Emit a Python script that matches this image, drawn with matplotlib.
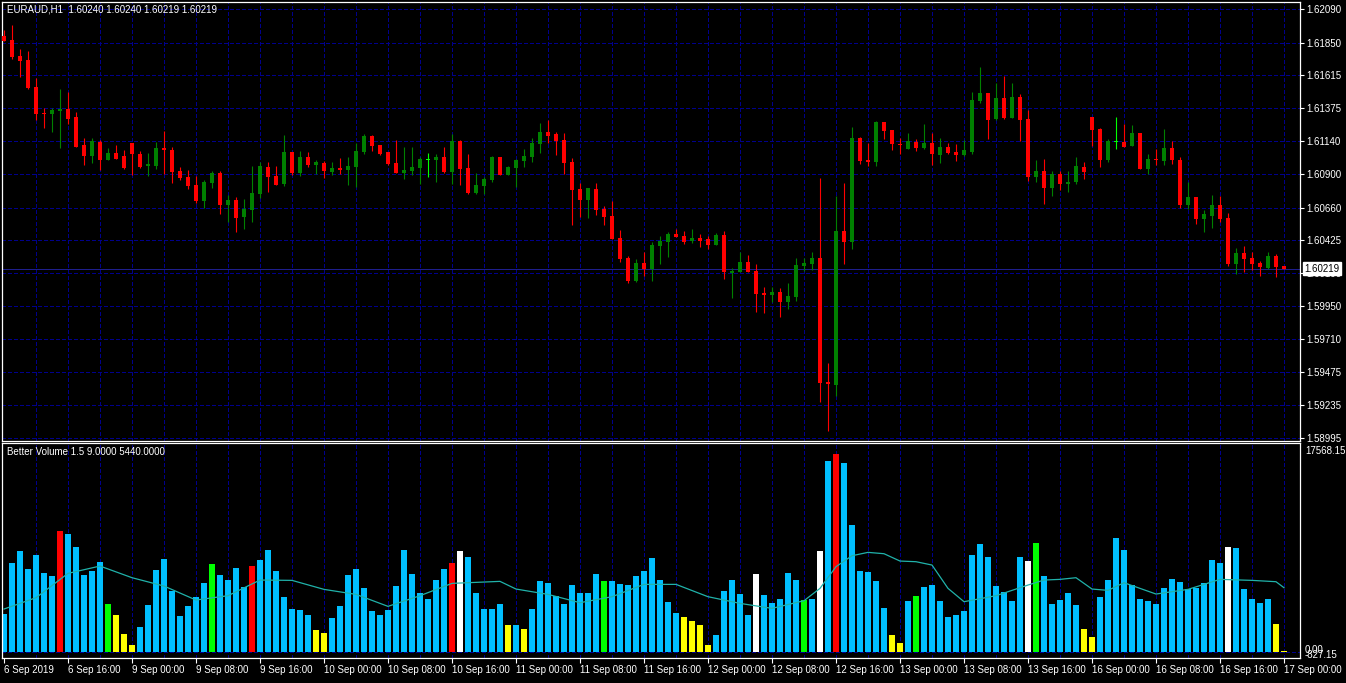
import matplotlib
matplotlib.use('Agg')
import matplotlib.pyplot as plt
import numpy as np

# =============================================================================
# EURAUD H1 candles + Better Volume 1.5 (MT4 style, black background)
# =============================================================================

OPEN = [1.61897, 1.61868, 1.61753, 1.61724, 1.61529, 1.61340, 1.61337, 1.61358, 1.61371, 1.61313,
        1.61111, 1.61034, 1.61133, 1.61005, 1.61053, 1.61032, 1.61125, 1.61046, 1.60962, 1.60962,
        1.61091, 1.61075, 1.60923, 1.60880, 1.60822, 1.60709, 1.60839, 1.60909, 1.60680, 1.60714,
        1.60594, 1.60644, 1.60760, 1.60952, 1.60887, 1.60832, 1.61060, 1.60911, 1.61024, 1.60969,
        1.60981, 1.60918, 1.60945, 1.60933, 1.60954, 1.61063, 1.61176, 1.61111, 1.61060, 1.60981,
        1.60911, 1.60926, 1.60947, 1.61001, 1.61005, 1.61024, 1.60916, 1.61140, 1.60945, 1.60765,
        1.60815, 1.60858, 1.61024, 1.60895, 1.60945, 1.60995, 1.61024, 1.61118, 1.61205, 1.61190,
        1.61147, 1.60988, 1.60793, 1.60714, 1.60793, 1.60649, 1.60599, 1.60440, 1.60296, 1.60130,
        1.60260, 1.60216, 1.60382, 1.60411, 1.60469, 1.60454, 1.60418, 1.60440, 1.60433, 1.60390,
        1.60462, 1.60187, 1.60195, 1.60267, 1.60202, 1.60043, 1.60029, 1.60050, 1.59978, 1.60014,
        1.60238, 1.60252, 1.60296, 1.59401, 1.59379, 1.60490, 1.60411, 1.61161, 1.61003, 1.60988,
        1.61277, 1.61219, 1.61116, 1.61084, 1.61133, 1.61091, 1.61125, 1.61041, 1.61097, 1.61060,
        1.61041, 1.61060, 1.61428, 1.61486, 1.61298, 1.61450, 1.61306, 1.61457, 1.61298, 1.60880,
        1.60923, 1.60801, 1.60902, 1.60830, 1.60844, 1.60952, 1.61313, 1.61226, 1.61003, 1.61133,
        1.61133, 1.61104, 1.61197, 1.60938, 1.61010, 1.60995, 1.61089, 1.61003, 1.60678, 1.60736,
        1.60577, 1.60599, 1.60678, 1.60584, 1.60252, 1.60332, 1.60296, 1.60260, 1.60224, 1.60310,
        1.60240]
HIGH = [1.61941, 1.61977, 1.61806, 1.61787, 1.61594, 1.61378, 1.61378, 1.61515, 1.61493, 1.61349,
        1.61164, 1.61161, 1.61147, 1.61089, 1.61111, 1.61075, 1.61125, 1.61068, 1.61053, 1.61133,
        1.61212, 1.61097, 1.60952, 1.60931, 1.60887, 1.60858, 1.60923, 1.60923, 1.60750, 1.60736,
        1.60721, 1.60962, 1.60991, 1.60988, 1.60959, 1.61183, 1.61060, 1.61068, 1.61058, 1.61003,
        1.60995, 1.60988, 1.61017, 1.61024, 1.61125, 1.61190, 1.61183, 1.61111, 1.61060, 1.61147,
        1.61097, 1.61097, 1.61024, 1.61053, 1.61046, 1.61097, 1.61190, 1.61147, 1.61046, 1.60909,
        1.60880, 1.61032, 1.61024, 1.60959, 1.61010, 1.61082, 1.61161, 1.61270, 1.61291, 1.61205,
        1.61197, 1.61017, 1.60837, 1.60801, 1.60837, 1.60671, 1.60707, 1.60498, 1.60310, 1.60288,
        1.60339, 1.60411, 1.60454, 1.60483, 1.60505, 1.60490, 1.60505, 1.60469, 1.60454, 1.60476,
        1.60490, 1.60224, 1.60339, 1.60317, 1.60252, 1.60086, 1.60086, 1.60079, 1.60115, 1.60296,
        1.60296, 1.60339, 1.60873, 1.59538, 1.60743, 1.60837, 1.61241, 1.61169, 1.61125, 1.61284,
        1.61277, 1.61219, 1.61161, 1.61197, 1.61154, 1.61262, 1.61197, 1.61161, 1.61125, 1.61118,
        1.61147, 1.61493, 1.61674, 1.61486, 1.61558, 1.61609, 1.61558, 1.61479, 1.61363, 1.61003,
        1.61010, 1.60923, 1.60923, 1.60923, 1.61024, 1.60988, 1.61313, 1.61234, 1.61154, 1.61313,
        1.61262, 1.61255, 1.61197, 1.61046, 1.61082, 1.61226, 1.61140, 1.61024, 1.60844, 1.60736,
        1.60642, 1.60750, 1.60743, 1.60620, 1.60368, 1.60382, 1.60339, 1.60274, 1.60339, 1.60325,
        1.60240]
LOW = [1.61860, 1.61734, 1.61604, 1.61518, 1.61291, 1.61236, 1.61207, 1.61091, 1.61262, 1.61097,
       1.60969, 1.60983, 1.60931, 1.61003, 1.61010, 1.60938, 1.60897, 1.60947, 1.60889, 1.60940,
       1.60904, 1.60839, 1.60861, 1.60796, 1.60695, 1.60659, 1.60803, 1.60615, 1.60558, 1.60485,
       1.60507, 1.60558, 1.60731, 1.60774, 1.60822, 1.60817, 1.60897, 1.60889, 1.60954, 1.60902,
       1.60875, 1.60897, 1.60904, 1.60824, 1.60810, 1.61048, 1.61070, 1.61041, 1.60969, 1.60909,
       1.60868, 1.60897, 1.60832, 1.60882, 1.60846, 1.60911, 1.60830, 1.60822, 1.60757, 1.60757,
       1.60757, 1.60844, 1.60895, 1.60895, 1.60808, 1.60952, 1.60988, 1.61053, 1.61125, 1.61039,
       1.60902, 1.60534, 1.60591, 1.60584, 1.60606, 1.60534, 1.60433, 1.60267, 1.60115, 1.60123,
       1.60166, 1.60130, 1.60252, 1.60303, 1.60447, 1.60397, 1.60404, 1.60375, 1.60361, 1.60390,
       1.60144, 1.60007, 1.60195, 1.60195, 1.59906, 1.59899, 1.59978, 1.59870, 1.59928, 1.59985,
       1.60202, 1.60209, 1.59257, 1.59048, 1.59300, 1.60252, 1.60361, 1.60974, 1.60959, 1.60959,
       1.61154, 1.61077, 1.61046, 1.61084, 1.61070, 1.61084, 1.60967, 1.60983, 1.61048, 1.60998,
       1.61034, 1.61048, 1.61414, 1.61154, 1.61291, 1.61298, 1.61306, 1.61140, 1.60851, 1.60844,
       1.60685, 1.60743, 1.60786, 1.60772, 1.60830, 1.60866, 1.61104, 1.60952, 1.60988, 1.61082,
       1.61097, 1.61104, 1.60938, 1.60902, 1.60967, 1.60967, 1.60974, 1.60656, 1.60649, 1.60541,
       1.60483, 1.60512, 1.60555, 1.60238, 1.60180, 1.60195, 1.60209, 1.60166, 1.60216, 1.60159,
       1.60219]
CLOSE = [1.61863, 1.61748, 1.61719, 1.61524, 1.61337, 1.61337, 1.61363, 1.61371, 1.61301, 1.61099,
         1.61034, 1.61140, 1.61005, 1.61053, 1.61012, 1.60947, 1.61048, 1.60954, 1.60974, 1.61089,
         1.61077, 1.60918, 1.60875, 1.60817, 1.60709, 1.60844, 1.60909, 1.60680, 1.60714, 1.60586,
         1.60649, 1.60765, 1.60959, 1.60882, 1.60824, 1.61060, 1.60911, 1.61024, 1.60969, 1.60988,
         1.60926, 1.60945, 1.60933, 1.60959, 1.61068, 1.61176, 1.61106, 1.61048, 1.60976, 1.60911,
         1.60931, 1.60952, 1.61010, 1.61001, 1.61024, 1.60918, 1.61140, 1.60938, 1.60765, 1.60822,
         1.60866, 1.61024, 1.60895, 1.60952, 1.61003, 1.61032, 1.61125, 1.61205, 1.61176, 1.61140,
         1.60981, 1.60786, 1.60714, 1.60801, 1.60642, 1.60591, 1.60433, 1.60288, 1.60130, 1.60260,
         1.60216, 1.60390, 1.60418, 1.60469, 1.60447, 1.60411, 1.60440, 1.60418, 1.60390, 1.60462,
         1.60195, 1.60202, 1.60267, 1.60195, 1.60036, 1.60029, 1.60050, 1.59978, 1.60022, 1.60245,
         1.60260, 1.60296, 1.59394, 1.59387, 1.60490, 1.60411, 1.61161, 1.60995, 1.60988, 1.61277,
         1.61212, 1.61120, 1.61113, 1.61140, 1.61091, 1.61125, 1.61048, 1.61097, 1.61055, 1.61041,
         1.61075, 1.61436, 1.61486, 1.61291, 1.61450, 1.61306, 1.61457, 1.61291, 1.60880, 1.60923,
         1.60801, 1.60902, 1.60830, 1.60844, 1.60959, 1.60916, 1.61219, 1.61003, 1.61140, 1.61133,
         1.61097, 1.61197, 1.60938, 1.61010, 1.61003, 1.61089, 1.61003, 1.60678, 1.60736, 1.60577,
         1.60613, 1.60678, 1.60577, 1.60252, 1.60332, 1.60288, 1.60252, 1.60231, 1.60310, 1.60231,
         1.60219]

VOLUME = [3348, 7911, 8948, 7348, 8622, 7022, 6726, 10756, 10489, 9304,
          6845, 7200, 7970, 4237, 3259, 1570, 593, 2193, 4148, 7259,
          8237, 5422, 3170, 4059, 4859, 6104, 7793, 6815, 6370, 7437,
          5748, 7615, 8148, 9037, 7170, 4859, 3793, 3704, 3259, 1926,
          1659, 2993, 4059, 6815, 7348, 5659, 3615, 3259, 3704, 5837,
          9037, 6904, 5215, 4682, 6370, 7348, 7882, 8948, 8415, 5215,
          3793, 3793, 4237, 2370, 2370, 2015, 3793, 6282, 6104, 4948,
          4237, 5926, 5215, 5215, 6904, 6282, 6282, 6015, 5926, 6726,
          7170, 8326, 6370, 4415, 3437, 3082, 2726, 2370, 593, 1482,
          5393, 6370, 5126, 3259, 6904, 5037, 4326, 4682, 6993, 6370,
          4593, 4682, 8948, 16948, 17568, 16771, 11259, 7170, 7082, 6282,
          3882, 1482, 770, 4504, 4948, 5748, 5926, 4504, 3082, 3259,
          3615, 8593, 9570, 8415, 5837, 5304, 4504, 8415, 8059, 9659,
          6726, 4237, 4593, 5215, 4148, 2015, 1304, 4859, 6370, 10104,
          9037, 5926, 4682, 4504, 4237, 5659, 6459, 6193, 5570, 5659,
          6104, 8148, 7882, 9304, 9215, 5570, 4682, 4326, 4682, 2459,
          40]
# bar indices by Better Volume class; every other bar is the normal (blue) class
VOL_CLIMAX_HIGH = [7, 31, 56, 104]                       # red
VOL_CHURN = [13, 26, 75, 100, 114, 129]                  # green
VOL_LOW = [14, 15, 16, 39, 40, 63, 65, 85, 86, 87, 88,
           111, 112, 135, 136, 159, 160]                 # yellow
VOL_CLIMAX_LOW = [57, 94, 102, 128, 153]                 # white

MA_IDX = [0, 4, 8, 12, 16, 20, 24, 28, 32, 36, 40, 44, 48, 52, 56, 60, 62, 64, 68, 72,
          76, 80, 84, 88, 92, 96, 100, 102, 104, 106, 108, 110, 112, 114, 116, 118, 120,
          124, 128, 130, 132, 134, 136, 138, 140, 144, 148, 152, 156, 159, 160]
MA_VAL = [3793, 4800, 6963, 7615, 6578, 5837, 4593, 4978, 6370, 6341, 5541, 5096, 4030,
          4978, 6074, 6193, 6252, 5570, 5096, 4356, 4889, 5985, 5985, 4889, 4296, 3852,
          4533, 5630, 7556, 8533, 8830, 8711, 8059, 8000, 7704, 5630, 4445, 4978, 5926,
          6370, 6430, 6578, 5570, 5452, 6133, 5126, 5541, 6430, 6341, 6222, 5689]

PRICE_TICKS = [1.62090, 1.61850, 1.61615, 1.61375, 1.61140, 1.60900, 1.60660, 1.60425,
               1.60190, 1.59950, 1.59710, 1.59475, 1.59235, 1.58995]
LAST_PRICE = 1.60219
TIME_LABELS = ['6 Sep 2019', '6 Sep 16:00', '9 Sep 00:00', '9 Sep 08:00', '9 Sep 16:00',
               '10 Sep 00:00', '10 Sep 08:00', '10 Sep 16:00', '11 Sep 00:00', '11 Sep 08:00',
               '11 Sep 16:00', '12 Sep 00:00', '12 Sep 08:00', '12 Sep 16:00', '13 Sep 00:00',
               '13 Sep 08:00', '13 Sep 16:00', '16 Sep 00:00', '16 Sep 08:00', '16 Sep 16:00',
               '17 Sep 00:00']

# ---- styling ----
BG = 'black'
GRID = '#00008c'
UP, DOWN, DOJI = '#008000', '#ff0000', '#00ff00'
FS = 7.0
plt.rcParams['font.family'] = ['Liberation Sans', 'DejaVu Sans']

W, H = 1346, 683
fig = plt.figure(figsize=(W / 100, H / 100), dpi=100, facecolor=BG)


def px_axes(x0, y0, x1, y1):
    a = fig.add_axes([x0 / W, 1 - y1 / H, (x1 - x0) / W, (y1 - y0) / H])
    a.set_facecolor(BG)
    for s in a.spines.values():
        s.set_color('white')
        s.set_linewidth(0.9)
    return a


ax = px_axes(2, 2, 1300, 441)
axv = px_axes(2, 443, 1300, 658)

n = len(OPEN)
idx = np.arange(n)
o, h, l, c = map(np.array, (OPEN, HIGH, LOW, CLOSE))

# ---- grid (crisp 1px dashed lines) ----
dash = (0, (5, 3))
for a in (ax, axv):
    for k in range(4, n, 4):
        a.axvline(k - 0.06, color=GRID, lw=0.5, ls=dash, zorder=0, antialiased=False)
for p in PRICE_TICKS:
    ax.axhline(p, color=GRID, lw=0.5, ls=dash, zorder=0, antialiased=False)
ax.axhline(LAST_PRICE, color='#1e1e8c', lw=0.5, zorder=0.5, antialiased=False)

# ---- candles ----
cols = np.where(c > o, UP, np.where(c < o, DOWN, DOJI))
ax.vlines(idx, l, h, colors=cols, lw=0.8, zorder=2)
body_lo = np.minimum(o, c)
body_h = np.maximum(np.abs(c - o), 0.00007)
ax.bar(idx, body_h, bottom=body_lo, width=0.6, color=cols, linewidth=0, zorder=3)

ax.set_xlim(-0.25, 162.0)
ax.set_ylim(1.58975, 1.62143)
ax.tick_params(axis='x', bottom=False, labelbottom=False)
ax.yaxis.tick_right()
ax.set_yticks(PRICE_TICKS)
ax.set_yticklabels([f'{p:.5f}' for p in PRICE_TICKS])
ax.tick_params(axis='y', colors='white', labelcolor='white', labelsize=FS,
               length=3, width=0.8, pad=1.5)

ax.annotate(f'{LAST_PRICE:.5f}', xy=(1.0035, LAST_PRICE), xycoords=('axes fraction', 'data'),
            ha='left', va='center', fontsize=FS, color='black', annotation_clip=False,
            bbox=dict(boxstyle='square,pad=0.18', facecolor='white', edgecolor='white'),
            zorder=10)

fig.text(7 / W, 1 - 10 / H, 'EURAUD,H1  1.60240 1.60240 1.60219 1.60219',
         color='white', fontsize=FS, va='center', ha='left')

# ---- volume panel ----
vcols = ['#00bfff'] * n
for group, colr in ((VOL_CLIMAX_HIGH, '#ff0000'), (VOL_CHURN, '#00ff00'),
                    (VOL_LOW, '#ffff00'), (VOL_CLIMAX_LOW, '#ffffff')):
    for j in group:
        vcols[j] = colr
axv.bar(idx, VOLUME, width=0.86, color=vcols, linewidth=0, zorder=2)
axv.plot(MA_IDX, MA_VAL, color='#20b2aa', lw=0.9, zorder=3)
axv.axhline(0, color=GRID, lw=0.5, ls=dash, zorder=1, antialiased=False)
axv.set_xlim(-0.25, 162.0)
axv.set_ylim(-560, 18553)
axv.set_yticks([])
axv.set_xticks(np.arange(0, n, 8) - 0.06)
axv.set_xticklabels(TIME_LABELS)
axv.tick_params(axis='x', colors='white', labelcolor='white', labelsize=FS,
                length=3.5, width=0.8, pad=1.5)
for t in axv.get_xticklabels():
    t.set_horizontalalignment('left')

fig.text(7 / W, 1 - 452 / H, 'Better Volume 1.5 9.0000 5440.0000',
         color='white', fontsize=FS, va='center', ha='left')
fig.text(1305 / W, 1 - 451 / H, '17568.15', color='white', fontsize=FS, va='center')
fig.text(1305 / W, 1 - 650 / H, '0.00', color='white', fontsize=FS, va='center')
fig.text(1305 / W, 1 - 655 / H, '-827.15', color='white', fontsize=FS, va='center')

fig.savefig('out.png', dpi=100, facecolor=BG)
